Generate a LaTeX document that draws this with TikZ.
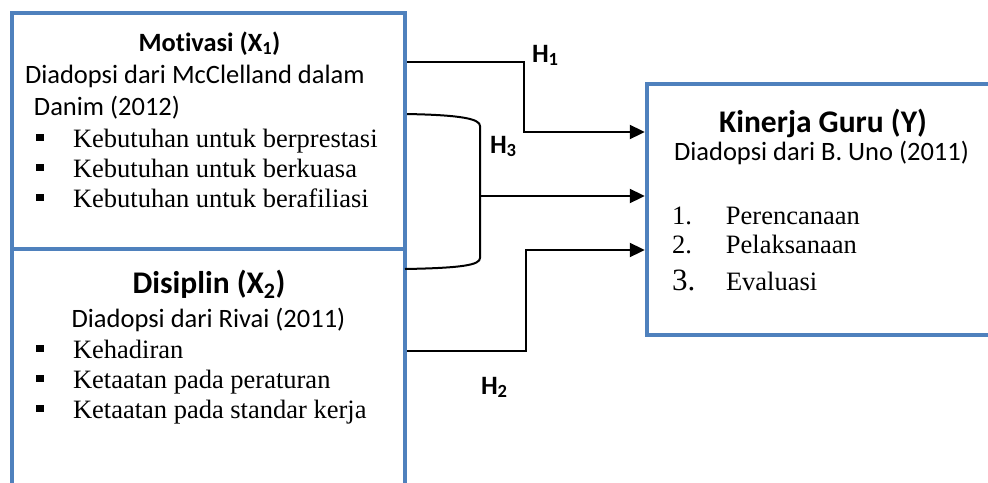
\documentclass[tikz,border=0pt]{standalone}
\usepackage{fontspec}
\setmainfont{Carlito}[Ligatures=NoCommon]
\newfontfamily\tnr{Liberation Serif}
\usetikzlibrary{arrows.meta}
\definecolor{boxblue}{HTML}{4F81BD}
\newcommand\fsreg{\fontsize{26.5pt}{30pt}\selectfont}
\newcommand\fsbig{\fontsize{31.5pt}{36pt}\selectfont}
\newcommand\sqbul{\makebox[37pt][l]{\rule[6pt]{7.5pt}{7.5pt}}}
\begin{document}
\begin{tikzpicture}[x=1pt,y=-1pt,
  box/.style={draw=boxblue,line width=4.5pt,inner sep=0pt,outer sep=0pt,rectangle,fill=none},
  conn/.style={line width=2pt,black,shorten <=2.2pt},
  arr/.style={conn,shorten >=2.2pt,-{Triangle[length=15pt,width=14pt]}},
  txt/.style={inner sep=0pt,outer sep=0pt,anchor=base west,font=\fsreg},
  ctxt/.style={inner sep=0pt,outer sep=0pt,anchor=base,font=\fsreg},
  ttl/.style={inner sep=0pt,outer sep=0pt,anchor=base,font=\fsbig\bfseries},
  item/.style={inner sep=0pt,outer sep=0pt,anchor=base west,font=\fsreg\tnr},
  hlab/.style={inner sep=0pt,outer sep=0pt,anchor=base west,font=\fsreg\bfseries}
]
\useasboundingbox (0,0) rectangle (988,482);
\clip (0,0) rectangle (988,482);

% boxes
\node[box,minimum width=393pt,minimum height=236pt] (x1) at (208.5,131) {};
\node[box,minimum width=393pt,minimum height=271pt] (x2) at (208.5,384.5) {};
\node[box,minimum width=363pt,minimum height=251pt] (y) at (828.5,209.5) {};

% X1 text
\node[ctxt,font=\fontsize{26.4pt}{30pt}\selectfont\bfseries] (x1t) at (209.5,51) {Motivasi (X\textsubscript{1})};
\node[txt] (x1a) at (25,83) {Diadopsi dari McClelland dalam};
\node[txt] (x1b) at (34,115) {Danim (2012)};
\node[item] (x1i1) at (36,147) {\sqbul Kebutuhan untuk berprestasi};
\node[item] (x1i2) at (36,177) {\sqbul Kebutuhan untuk berkuasa};
\node[item] (x1i3) at (36,207) {\sqbul Kebutuhan untuk berafiliasi};

% X2 text
\node[ttl] (x2t) at (209,293) {Disiplin (X\textsubscript{2})};
\node[ctxt] (x2a) at (208.5,327) {Diadopsi dari Rivai (2011)};
\node[item] (x2i1) at (36,358) {\sqbul Kehadiran};
\node[item] (x2i2) at (36,388) {\sqbul Ketaatan pada peraturan};
\node[item] (x2i3) at (36,418) {\sqbul Ketaatan pada standar kerja};

% Y text
\node[ttl] (yt) at (823,132) {Kinerja Guru (Y)};
\node[ctxt] (ya) at (821.5,160) {Diadopsi dari B. Uno (2011)};
\node[item] (yi1) at (672,224) {\makebox[54pt][l]{1.}Perencanaan};
\node[item] (yi2) at (672,253) {\makebox[54pt][l]{2.}Pelaksanaan};
\node[item] (yi3) at (672,290) {\makebox[54pt][l]{\fontsize{31pt}{36pt}\selectfont 3.}Evaluasi};

% connector coordinates
\coordinate (h1a) at (524,62);
\coordinate (h1b) at (524,132);
\coordinate (h3a) at (480,126);
\coordinate (h3b) at (480,258);
\coordinate (h3m) at (480,196);
\coordinate (h3top) at (405,114);
\coordinate (h3bot) at (405,269);
\coordinate (h2a) at (526,351);
\coordinate (h2b) at (526,250);

% H1
\draw[arr] (h1a -| x1.east) -- (h1a) -- (h1b) -- (h1b -| y.west);
% H3
\draw[conn] (h3top) .. controls (462,115) and (480,119) .. (h3a) -- (h3b)
  .. controls (480,265) and (462,268) .. (h3bot);
\draw[arr,shorten <=0pt] (h3m) -- (h3m -| y.west);
% H2
\draw[arr] (h2a -| x2.east) -- (h2a) -- (h2b) -- (h2b -| y.west);

% labels
\node[hlab] (lh1) at (532,62) {H\textsubscript{1}};
\node[hlab] (lh3) at (490,153) {H\textsubscript{3}};
\node[hlab] (lh2) at (481,394) {H\textsubscript{2}};
\end{tikzpicture}
\end{document}
